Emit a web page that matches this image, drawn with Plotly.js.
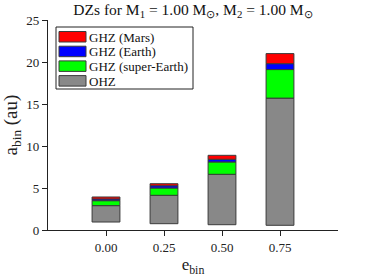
<!DOCTYPE html>
<html><head><meta charset="utf-8">
<script src="https://cdn.plot.ly/plotly-3.0.1.min.js"></script>
<style>html,body{margin:0;padding:0;background:#fff}#c{width:374px;height:280px}</style>
</head><body><div id="c"></div>
<script>
var eBin = [0.00, 0.25, 0.50, 0.75];
var tickLabels = ['0.00', '0.25', '0.50', '0.75'];
var ohzInner = [0.95, 0.75, 0.63, 0.56];
var ohzOuter = [2.90, 4.13, 6.63, 15.70];
var superEarthOuter = [3.49, 5.00, 8.10, 19.10];
var earthOuter = [3.69, 5.27, 8.42, 19.80];
var marsOuter = [3.93, 5.51, 8.89, 21.00];
var seriesNames = ['GHZ (Mars)', 'GHZ (Earth)', 'GHZ (super-Earth)', 'OHZ'];
var seriesColors = ['#ff0000', '#0000ff', '#00ff00', '#888888'];

function diff(a, b) { return a.map(function (v, i) { return v - b[i]; }); }
var edge = {color: '#3a3a3a', width: 1};
function bar(name, base, top, color) {
  return {type: 'bar', name: name, x: eBin, base: base, y: diff(top, base), width: 0.12,
    marker: {color: color, line: edge}, hoverinfo: 'skip', showlegend: false};
}
var traces = [
  bar(seriesNames[3], ohzInner, ohzOuter, seriesColors[3]),
  bar(seriesNames[2], ohzOuter, superEarthOuter, seriesColors[2]),
  bar(seriesNames[1], superEarthOuter, earthOuter, seriesColors[1]),
  bar(seriesNames[0], earthOuter, marsOuter, seriesColors[0])
];
var F = 'Liberation Serif, Times New Roman, serif';

// manual legend (pixel layout converted to paper coords)
var L = 48, W = 290, B = 230, H = 210;
function px(x) { return (x - L) / W; }
function py(y) { return (B - y) / H; }
var shapes = [{type: 'rect', xref: 'paper', yref: 'paper', x0: px(56), x1: px(193), y0: py(89), y1: py(27),
  line: {color: '#222', width: 1}, fillcolor: '#fff', layer: 'above'}];
var annotations = [];
seriesNames.forEach(function (n, i) {
  var top = 31.5 + i * 14.7;
  shapes.push({type: 'rect', xref: 'paper', yref: 'paper', x0: px(59), x1: px(86), y0: py(top + 10.5), y1: py(top),
    line: {color: '#3a3a3a', width: 1}, fillcolor: seriesColors[i], layer: 'above'});
  annotations.push({xref: 'paper', yref: 'paper', x: px(87), y: py(top + 5.5), xanchor: 'left', yanchor: 'middle',
    text: n, showarrow: false, font: {family: F, size: 13, color: '#111'}});
});

var layout = {
  width: 374, height: 280, barmode: 'overlay',
  margin: {l: 48, r: 36, t: 20, b: 50},
  paper_bgcolor: '#fff', plot_bgcolor: '#fff',
  font: {family: F, size: 13, color: '#222'},
  title: {text: 'DZs for M<sub>1</sub> = 1.00 M<sub>⊙</sub>, M<sub>2</sub> = 1.00 M<sub>⊙</sub>',
    x: 0.516, xanchor: 'center', y: 0.965, yanchor: 'middle', font: {family: F, size: 15.5, color: '#111'}},
  xaxis: {range: [-0.25, 1.0], tickvals: eBin, ticktext: tickLabels, showgrid: false, zeroline: false,
    showline: true, linecolor: '#222', linewidth: 1.2, ticks: 'outside', ticklen: 5, tickcolor: '#222',
    tickfont: {family: F, size: 13}, fixedrange: true,
    title: {text: 'e<sub>bin</sub>', font: {family: F, size: 17}, standoff: 4}},
  yaxis: {range: [0, 25], tickvals: [0, 5, 10, 15, 20, 25], showgrid: false, zeroline: false,
    showline: true, linecolor: '#222', linewidth: 1.2, ticks: 'outside', ticklen: 5, tickcolor: '#222',
    tickfont: {family: F, size: 13}, fixedrange: true,
    title: {text: 'a<sub>bin</sub> (au)', font: {family: F, size: 19}, standoff: 6}},
  showlegend: false,
  shapes: shapes,
  annotations: annotations
};
Plotly.newPlot('c', traces, layout, {staticPlot: true, displayModeBar: false});
</script></body></html>
